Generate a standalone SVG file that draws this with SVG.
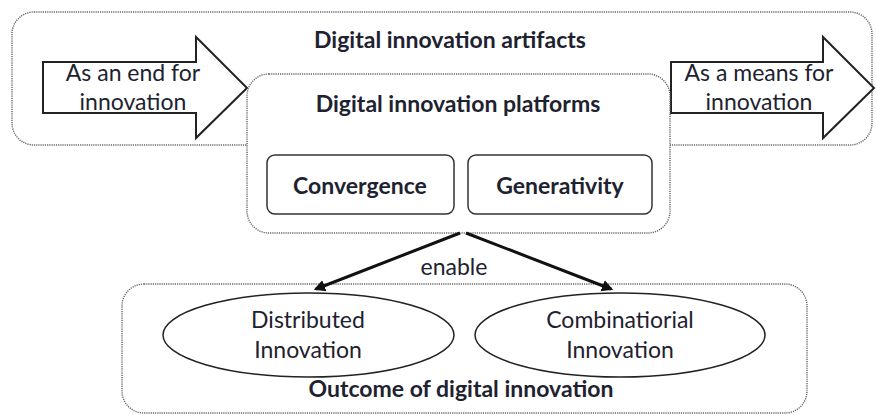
<svg xmlns="http://www.w3.org/2000/svg" width="876" height="415" viewBox="0 0 876 415">
<style>
.dot{fill:#fff;stroke:#666;stroke-width:1.4;stroke-dasharray:1.2 1}
.blk{fill:#fff;stroke:#222;stroke-width:2}
.box{fill:#fff;stroke:#333;stroke-width:1.5}
.ell{fill:#fff;stroke:#222;stroke-width:1.5}
text{font-family:Lato,"Liberation Sans",sans-serif;fill:#1e2230;text-anchor:middle}
.b{font-weight:bold;font-size:23px}
.r{font-size:23px}
.conn{stroke:#111;stroke-width:3;fill:none}
</style>
<defs>
<marker id="ah" markerWidth="6" markerHeight="6" refX="3" refY="3" orient="auto" markerUnits="strokeWidth">
<path d="M0,1 L3.8,3 L0,5 Z" fill="#111"/>
</marker>
</defs>
<g id="artifacts">
<rect class="dot" x="12" y="12" width="860" height="133" rx="22"/>
<text class="b" x="450" y="48">Digital innovation artifacts</text>
</g>
<g id="end-arrow">
<path class="blk" d="M43,62 H196 V37 L247,88 L196,138 V113 H43 Z"/>
<text class="r" x="133" y="81">As an end for</text>
<text class="r" x="133" y="110">innovation</text>
</g>
<g id="means-arrow">
<path class="blk" d="M671,62 H823 V37 L874,88 L823,138 V113 H671 Z"/>
<text class="r" x="759" y="81">As a means for</text>
<text class="r" x="759" y="110">innovation</text>
</g>
<g id="platforms">
<rect class="dot" x="247" y="74" width="423" height="159" rx="22"/>
<text class="b" x="458" y="112">Digital innovation platforms</text>
</g>
<g id="convergence">
<rect class="box" x="267" y="155" width="187" height="59" rx="8"/>
<text class="b" x="360" y="194">Convergence</text>
</g>
<g id="generativity">
<rect class="box" x="468" y="155" width="184" height="59" rx="8"/>
<text class="b" x="560" y="194">Generativity</text>
</g>
<g id="outcome">
<rect class="dot" x="122" y="284" width="685" height="129" rx="22"/>
<text class="b" x="461" y="397">Outcome of digital innovation</text>
</g>
<g id="distributed">
<ellipse class="ell" cx="308.5" cy="335" rx="145.5" ry="42"/>
<text class="r" x="308" y="328">Distributed</text>
<text class="r" x="308" y="358">Innovation</text>
</g>
<g id="combinatorial">
<ellipse class="ell" cx="620" cy="335" rx="145" ry="42"/>
<text class="r" x="620" y="328">Combinatiorial</text>
<text class="r" x="620" y="358">Innovation</text>
</g>
<g id="connectors">
<line class="conn" x1="460" y1="233" x2="316" y2="289" marker-end="url(#ah)"/>
<line class="conn" x1="466" y1="233" x2="611" y2="289" marker-end="url(#ah)"/>
<text class="r" x="454" y="275">enable</text>
</g>
</svg>
